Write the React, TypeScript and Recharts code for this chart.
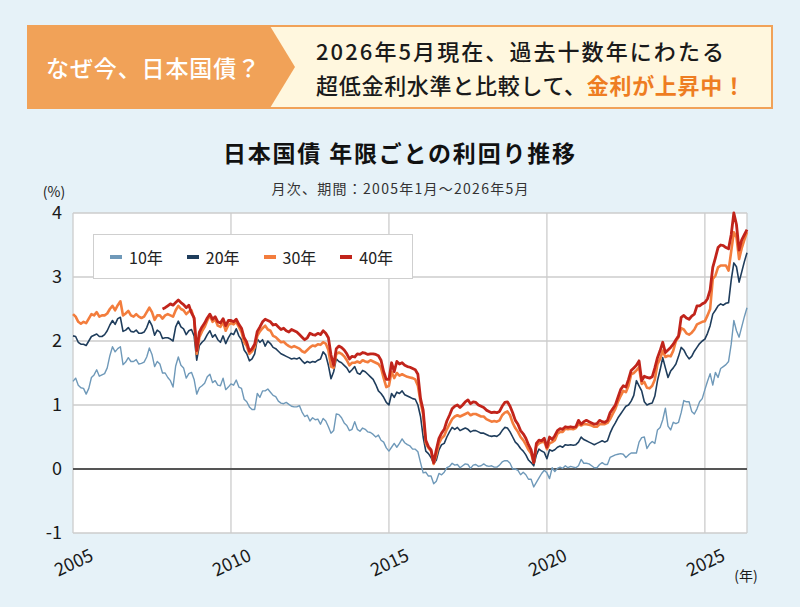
import { LineChart, Line, XAxis, YAxis, CartesianGrid, ReferenceLine, Legend } from "recharts";

// 月次データ：2005年1月〜2026年5月（257か月）
const START_YEAR = 2005;

// 10年債利回り(%)
const yield10 = [
  1.37, 1.42, 1.31, 1.27, 1.26, 1.17, 1.26, 1.43, 1.47, 1.55, 1.45, 1.47, // 2005
  1.49, 1.58, 1.77, 1.91, 1.83, 1.88, 1.91, 1.63, 1.67, 1.74, 1.68, 1.68, // 2006
  1.71, 1.64, 1.65, 1.67, 1.75, 1.89, 1.79, 1.6, 1.68, 1.64, 1.5, 1.5, // 2007
  1.43, 1.38, 1.28, 1.61, 1.75, 1.62, 1.58, 1.42, 1.49, 1.51, 1.4, 1.17, // 2008
  1.27, 1.3, 1.34, 1.44, 1.48, 1.35, 1.38, 1.31, 1.3, 1.42, 1.24, 1.28, // 2009
  1.33, 1.31, 1.39, 1.28, 1.26, 1.09, 1.05, 0.97, 0.93, 0.93, 1.18, 1.12, // 2010
  1.22, 1.22, 1.25, 1.2, 1.15, 1.13, 1.06, 1.03, 1.02, 1.04, 1.01, 0.98, // 2011
  0.97, 0.97, 0.99, 0.89, 0.82, 0.84, 0.75, 0.8, 0.77, 0.78, 0.7, 0.79, // 2012
  0.75, 0.66, 0.56, 0.6, 0.86, 0.85, 0.8, 0.72, 0.68, 0.6, 0.62, 0.74, // 2013
  0.62, 0.59, 0.64, 0.62, 0.58, 0.57, 0.54, 0.5, 0.53, 0.45, 0.42, 0.33, // 2014
  0.28, 0.34, 0.4, 0.34, 0.4, 0.47, 0.41, 0.38, 0.36, 0.31, 0.31, 0.27, // 2015
  0.1, -0.06, -0.05, -0.11, -0.11, -0.23, -0.19, -0.07, -0.09, -0.05, 0.02, 0.04, // 2016
  0.09, 0.06, 0.07, 0.02, 0.05, 0.08, 0.07, 0.01, 0.06, 0.07, 0.04, 0.05, // 2017
  0.08, 0.05, 0.04, 0.05, 0.03, 0.03, 0.06, 0.11, 0.13, 0.13, 0.09, 0.0, // 2018
  0.0, -0.02, -0.09, -0.05, -0.09, -0.16, -0.16, -0.28, -0.21, -0.14, -0.07, -0.02, // 2019
  -0.06, -0.15, 0.02, -0.04, 0.01, 0.03, 0.01, 0.05, 0.02, 0.04, 0.03, 0.02, // 2020
  0.05, 0.15, 0.09, 0.09, 0.08, 0.05, 0.02, 0.02, 0.07, 0.1, 0.07, 0.07, // 2021
  0.18, 0.2, 0.22, 0.23, 0.24, 0.23, 0.18, 0.22, 0.25, 0.25, 0.25, 0.42, // 2022
  0.49, 0.5, 0.32, 0.39, 0.43, 0.4, 0.61, 0.65, 0.77, 0.95, 0.67, 0.61, // 2023
  0.73, 0.71, 0.73, 0.88, 1.07, 1.05, 1.05, 0.9, 0.86, 0.94, 1.05, 1.1, // 2024
  1.24, 1.37, 1.49, 1.31, 1.51, 1.43, 1.57, 1.6, 1.63, 1.68, 1.95, 2.32, // 2025
  2.16, 2.06, 2.22, 2.38, 2.52, // 2026
];

// 20年債利回り(%)
const yield20 = [
  2.08, 2.07, 1.98, 1.95, 1.95, 1.93, 2.0, 2.07, 2.09, 2.11, 2.07, 2.07,
  2.1, 2.16, 2.25, 2.32, 2.26, 2.35, 2.37, 2.15, 2.17, 2.21, 2.15, 2.14,
  2.17, 2.12, 2.12, 2.14, 2.21, 2.32, 2.24, 2.09, 2.17, 2.14, 2.04, 2.05,
  2.05, 2.03, 2.0, 2.22, 2.31, 2.22, 2.19, 2.1, 2.16, 2.18, 2.08, 1.7,
  1.93, 1.98, 2.02, 2.1, 2.16, 2.06, 2.1, 2.02, 1.98, 2.08, 1.96, 2.05,
  2.12, 2.1, 2.19, 2.08, 2.02, 1.86, 1.8, 1.69, 1.72, 1.8, 2.03, 1.98,
  2.02, 1.92, 2.0, 1.96, 1.9, 1.88, 1.84, 1.8, 1.78, 1.76, 1.74, 1.72,
  1.73, 1.72, 1.74, 1.69, 1.65, 1.68, 1.66, 1.68, 1.67, 1.7, 1.72, 1.83,
  1.78, 1.62, 1.41, 1.52, 1.72, 1.68, 1.66, 1.62, 1.58, 1.51, 1.55, 1.6,
  1.5, 1.48, 1.54, 1.52, 1.48, 1.44, 1.4, 1.32, 1.22, 1.18, 1.12, 1.04,
  1.0, 1.18, 1.12, 1.2, 1.18, 1.22, 1.16, 1.14, 1.12, 1.1, 1.09, 1.0,
  0.82, 0.5, 0.28, 0.24, 0.18, 0.08, 0.14, 0.3, 0.38, 0.4, 0.5, 0.58,
  0.65, 0.62, 0.65, 0.6, 0.62, 0.64, 0.62, 0.58, 0.6, 0.6, 0.58, 0.56,
  0.56, 0.54, 0.52, 0.51, 0.52, 0.51, 0.54, 0.6, 0.65, 0.64, 0.58, 0.5,
  0.42, 0.38, 0.32, 0.28, 0.22, 0.14, 0.1, 0.05, 0.22, 0.31, 0.28, 0.26,
  0.16, 0.3, 0.28, 0.3, 0.34, 0.36, 0.34, 0.38, 0.37, 0.38, 0.37, 0.38,
  0.42, 0.5, 0.46, 0.44, 0.42, 0.4, 0.38, 0.4, 0.42, 0.44, 0.42, 0.44,
  0.56, 0.65, 0.72, 0.8, 0.86, 0.92, 0.98, 1.0, 1.06, 1.15, 1.38, 1.3,
  1.22, 1.05, 1.0, 1.02, 1.03, 1.14, 1.38, 1.55, 1.74, 1.58, 1.43, 1.53,
  1.58, 1.64, 1.76, 1.9, 1.86, 1.78, 1.72, 1.76, 1.84, 1.9, 1.96, 2.0,
  2.03, 2.12, 2.24, 2.42, 2.48, 2.55, 2.58, 2.56, 2.59, 2.6, 2.95, 3.22,
  3.16, 2.92, 3.08, 3.24, 3.38,
];

// 30年債利回り(%)
const yield30 = [
  2.42, 2.38, 2.3, 2.27, 2.3, 2.28, 2.35, 2.42, 2.4, 2.45, 2.38, 2.4,
  2.4, 2.43, 2.5, 2.55, 2.48, 2.56, 2.62, 2.4, 2.43, 2.47, 2.4, 2.38,
  2.42, 2.38, 2.36, 2.38, 2.45, 2.52, 2.45, 2.33, 2.4, 2.4, 2.35, 2.4,
  2.42, 2.4, 2.38, 2.48, 2.55, 2.5, 2.48, 2.42, 2.46, 2.48, 2.35, 1.8,
  2.06, 2.15, 2.22, 2.32, 2.4, 2.3, 2.34, 2.24, 2.22, 2.3, 2.16, 2.25,
  2.28, 2.26, 2.3, 2.22, 2.14, 1.98, 1.92, 1.8, 1.84, 1.9, 2.08, 2.15,
  2.2, 2.24, 2.18, 2.16, 2.08, 2.06, 2.02, 1.98, 1.99, 1.95, 1.92, 1.9,
  1.92, 1.9, 1.88, 1.84, 1.82, 1.86, 1.9, 1.93, 1.92, 1.95, 1.94, 1.98,
  1.96, 1.86, 1.6, 1.58, 1.8, 1.82, 1.8, 1.76, 1.7, 1.62, 1.66, 1.66,
  1.68, 1.66, 1.7, 1.68, 1.67, 1.7, 1.68, 1.66, 1.64, 1.58, 1.42, 1.28,
  1.3, 1.52, 1.42, 1.5, 1.46, 1.48, 1.46, 1.44, 1.43, 1.42, 1.4, 1.3,
  1.05, 0.85, 0.4, 0.33, 0.28, 0.08, 0.22, 0.4, 0.48, 0.52, 0.62, 0.7,
  0.78, 0.82, 0.84, 0.82, 0.84, 0.86, 0.88, 0.84, 0.86, 0.86, 0.84, 0.82,
  0.82, 0.78, 0.76, 0.74, 0.75, 0.74, 0.76, 0.84, 0.88, 0.9, 0.84, 0.72,
  0.64, 0.58, 0.5, 0.45, 0.38, 0.3, 0.24, 0.1, 0.36, 0.4, 0.42, 0.43,
  0.31, 0.4, 0.42, 0.45, 0.55, 0.58, 0.58, 0.63, 0.62, 0.63, 0.62, 0.64,
  0.7, 0.68, 0.7, 0.7, 0.69, 0.68, 0.66, 0.66, 0.7, 0.7, 0.7, 0.72,
  0.78, 0.86, 0.94, 1.05, 1.14, 1.22, 1.2, 1.3, 1.48, 1.5, 1.54, 1.59,
  1.33, 1.36, 1.27, 1.26, 1.3, 1.4, 1.64, 1.72, 1.85, 1.75, 1.77, 1.76,
  1.85, 2.0, 2.06, 2.2, 2.18, 2.12, 2.1, 2.13, 2.18, 2.26, 2.28, 2.3,
  2.31, 2.4, 2.5, 2.97, 3.02, 3.15, 3.18, 3.18, 3.18, 3.1, 3.4, 3.7,
  3.62, 3.28, 3.45, 3.58, 3.7,
];

// 40年債利回り(%)：2007年11月から
const FORTY_START = 34;
const yield40 = [
  2.5, 2.52, // 2007年11〜12月
  2.55, 2.58, 2.56, 2.6, 2.64, 2.6, 2.57, 2.52, 2.56, 2.44, 2.36, 1.85,
  2.14, 2.22, 2.28, 2.36, 2.42, 2.34, 2.38, 2.3, 2.28, 2.35, 2.24, 2.32,
  2.32, 2.3, 2.34, 2.26, 2.2, 2.05, 1.98, 1.84, 1.88, 1.95, 2.15, 2.22,
  2.3, 2.34, 2.32, 2.3, 2.25, 2.26, 2.22, 2.18, 2.2, 2.16, 2.14, 2.18,
  2.16, 2.14, 2.1, 2.06, 2.02, 2.05, 2.12, 2.1, 2.09, 2.12, 2.1, 2.16,
  2.12, 2.05, 1.78, 1.62, 1.88, 1.92, 1.9, 1.86, 1.8, 1.72, 1.76, 1.75,
  1.8, 1.79, 1.82, 1.81, 1.79, 1.8, 1.8, 1.79, 1.77, 1.7, 1.52, 1.4,
  1.4, 1.66, 1.52, 1.68, 1.64, 1.66, 1.62, 1.6, 1.59, 1.57, 1.55, 1.48,
  1.1, 0.92, 0.45, 0.35, 0.3, 0.1, 0.3, 0.48, 0.56, 0.62, 0.75, 0.84,
  0.94, 0.98, 1.0, 0.96, 1.0, 1.05, 1.08, 1.02, 1.05, 1.04, 1.0, 0.98,
  0.96, 0.92, 0.9, 0.88, 0.89, 0.88, 0.9, 0.98, 1.04, 1.05, 0.98, 0.88,
  0.76, 0.7, 0.6, 0.55, 0.48, 0.38, 0.3, 0.1, 0.4, 0.45, 0.44, 0.48,
  0.34, 0.5, 0.46, 0.52, 0.6, 0.63, 0.62, 0.66, 0.65, 0.66, 0.65, 0.66,
  0.76, 0.7, 0.74, 0.76, 0.74, 0.72, 0.7, 0.71, 0.76, 0.74, 0.73, 0.76,
  0.88, 0.94, 1.0, 1.12, 1.24, 1.3, 1.28, 1.4, 1.54, 1.58, 1.62, 1.69,
  1.38, 1.45, 1.43, 1.42, 1.44, 1.58, 1.74, 1.85, 1.98, 1.82, 1.86, 1.9,
  1.95, 2.02, 2.08, 2.37, 2.4, 2.36, 2.34, 2.39, 2.42, 2.55, 2.55, 2.58,
  2.6, 2.66, 2.8, 3.15, 3.3, 3.46, 3.5, 3.49, 3.46, 3.44, 3.66, 4.0,
  3.82, 3.42, 3.58, 3.66, 3.74,
];

const yearTicks = [0, 60, 120, 180, 240];
const yTicks = [-1, 0, 1, 2, 3, 4];

const series = [
  { key: "y10", name: "10年", color: "#6f99b9", width: 1.4 },
  { key: "y20", name: "20年", color: "#1f3d5c", width: 1.6 },
  { key: "y30", name: "30年", color: "#f37d3d", width: 2.6 },
  { key: "y40", name: "40年", color: "#c1241b", width: 2.8 },
];

const rows = yield10.map((v, i) => ({
  i,
  y10: v,
  y20: yield20[i],
  y30: yield30[i],
  y40: i >= FORTY_START ? yield40[i - FORTY_START] : null,
}));

const FONT = "'Noto Sans CJK JP', 'Noto Sans', sans-serif";

function YearTick({ x, y, payload }: any) {
  return (
    <g transform={`translate(${x},${y + 28})`}>
      <text textAnchor="middle" dominantBaseline="central" transform="rotate(-25)" fontSize={18} fill="#1a1a1a" fontFamily={FONT}>
        {START_YEAR + payload.value / 12}
      </text>
    </g>
  );
}

function LegendBox() {
  return (
    <div style={{ width: 320, height: 45, background: "#fff", border: "1px solid #cfcfcf", display: "flex", alignItems: "center", paddingLeft: 16, boxSizing: "border-box", fontFamily: FONT, whiteSpace: "nowrap" }}>
      {series.map((s) => (
        <div key={s.key} style={{ display: "flex", alignItems: "center", marginRight: 24, flexShrink: 0 }}>
          <span style={{ display: "inline-block", width: 12, height: 4, background: s.color, marginRight: 7 }} />
          <span style={{ fontSize: 16, color: "#222" }}>{s.name}</span>
        </div>
      ))}
    </div>
  );
}

export default function App() {
  return (
    <div style={{ position: "absolute", left: 0, top: 0, width: 800, height: 607, background: "#e6f2f8", overflow: "hidden", fontFamily: FONT }}>
      <LineChart width={800} height={607} data={rows} margin={{ top: 213, right: 53, bottom: 24, left: 13 }}>
        <CartesianGrid fill="#fff" stroke="#cccccc" strokeWidth={1.3} />
        <XAxis
          dataKey="i"
          type="number"
          domain={[0, 256]}
          ticks={yearTicks}
          tick={<YearTick />}
          tickLine={false}
          axisLine={false}
          tickSize={0}
          tickMargin={0}
          height={50}
        />
        <YAxis
          domain={[-1, 4]}
          ticks={yTicks}
          width={60}
          tickLine={false}
          axisLine={false}
          tickSize={0}
          tickMargin={11}
          tick={{ fontSize: 18, fill: "#1a1a1a", fontFamily: FONT }}
        />
        <ReferenceLine y={0} stroke="#555" strokeWidth={2.2} />
        {series.map((s) => (
          <Line
            key={s.key}
            dataKey={s.key}
            name={s.name}
            type="linear"
            stroke={s.color}
            strokeWidth={s.width}
            strokeLinejoin="round"
            dot={false}
            isAnimationActive={false}
          />
        ))}
        <Legend
          layout="horizontal"
          verticalAlign="middle"
          align="center"
          content={() => <LegendBox />}
          wrapperStyle={{ left: 93, top: 234, width: 320, height: 45 }}
        />
      </LineChart>

      <svg width={800} height={607} style={{ position: "absolute", left: 0, top: 0, pointerEvents: "none" }} fontFamily={FONT}>
        <rect x={28} y={26} width={744} height={82} fill="#fff7de" stroke="#f1a258" strokeWidth={2} />
        <polygon points="28,26 270,26 295,67 270,108 28,108" fill="#f1a258" />
        <text x={153} y={67} textAnchor="middle" dominantBaseline="central" fill="#fff" fontSize={23} fontWeight={500} textLength={214}>
          なぜ今、日本国債？
        </text>
        <text x={316} y={50} dominantBaseline="central" fill="#1a1a1a" fontSize={22} fontWeight={500} textLength={408}>
          2026年5月現在、過去十数年にわたる
        </text>
        <text x={316} y={84} dominantBaseline="central" fill="#1a1a1a" fontSize={22} fontWeight={500} textLength={429}>
          超低金利水準と比較して、
          <tspan fill="#ee7d22" fontWeight={700}>金利が上昇中！</tspan>
        </text>

        <text x={399} y={152} textAnchor="middle" dominantBaseline="central" fill="#111" fontSize={23} fontWeight={700} textLength={352}>
          日本国債 年限ごとの利回り推移
        </text>
        <text x={400} y={188} textAnchor="middle" dominantBaseline="central" fill="#333" fontSize={14} textLength={257}>
          月次、期間：2005年1月～2026年5月
        </text>
        <text x={54} y={191} textAnchor="middle" dominantBaseline="central" fill="#1a1a1a" fontSize={14}>
          (%)
        </text>
        <text x={746} y={575} textAnchor="middle" dominantBaseline="central" fill="#1a1a1a" fontSize={14}>
          (年)
        </text>
      </svg>
    </div>
  );
}
